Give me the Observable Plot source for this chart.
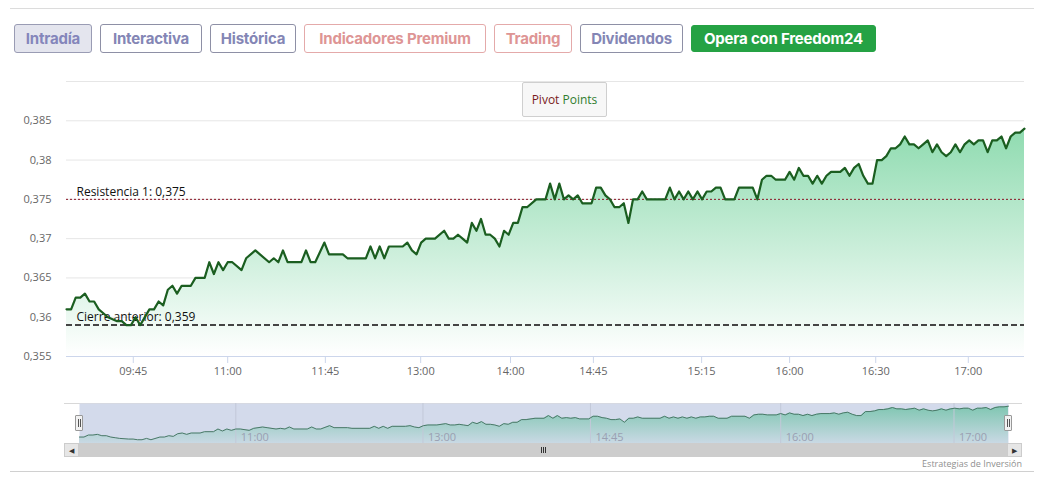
<!DOCTYPE html>
<html><head><meta charset="utf-8">
<script src="https://cdn.jsdelivr.net/npm/d3@7"></script>
<script src="https://cdn.jsdelivr.net/npm/@observablehq/plot@0.6"></script>
<style>
body{margin:0;background:#fff;}
#root{position:relative;width:1044px;height:488px;overflow:hidden;font-family:"Open Sans",sans-serif;}
#root svg{position:absolute;left:0;}
.hr{position:absolute;height:1px;}
.btn{position:absolute;top:24px;height:29px;box-sizing:border-box;border:1px solid;border-radius:3px;font:700 15px Inter,sans-serif;display:flex;align-items:center;justify-content:center;white-space:nowrap;letter-spacing:-0.2px;}
.box{position:absolute;box-sizing:border-box;}
</style>
</head><body>
<div id="root"></div>
<script>
// ---- data ----
const buttonLabels = ["Intradía", "Interactiva", "Histórica", "Indicadores Premium", "Trading", "Dividendos", "Opera con Freedom24"];
const pointNo = [0,1,2,3,4,5,6,7,8,9,11,12,13,14,15,16,18,19,20,21,22,23,24,25,27,28,30,31,32,33,34,35,36,38,39,41,42,44,45,46,47,48,51,52,53,54,56,57,60,61,65,66,67,68,69,70,73,74,75,76,77,78,80,82,83,84,85,86,87,88,89,90,91,92,93,94,95,96,97,98,99,100,102,104,105,106,107,108,109,110,111,112,114,115,116,117,118,119,120,121,122,123,124,125,126,130,131,132,133,134,135,136,137,138,139,140,141,142,143,145,146,149,150,151,152,153,154,156,157,158,159,160,161,162,163,164,165,166,168,169,170,171,172,173,174,175,176,177,178,179,180,181,182,183,184,185,186,187,188,189,190,191,192,193,194,195,196,197,198,199,200,201,202,203,204,205,206,207,208];
const price = [0.361,0.361,0.3625,0.3625,0.363,0.362,0.362,0.361,0.3605,0.360,0.3595,0.3595,0.359,0.359,0.360,0.359,0.361,0.361,0.362,0.3615,0.3635,0.364,0.363,0.364,0.364,0.365,0.365,0.367,0.3655,0.367,0.366,0.367,0.367,0.366,0.3675,0.3685,0.368,0.367,0.3675,0.367,0.3685,0.367,0.367,0.3685,0.367,0.367,0.3695,0.368,0.368,0.3675,0.3675,0.369,0.3675,0.369,0.3675,0.369,0.369,0.3695,0.3685,0.368,0.3695,0.370,0.370,0.371,0.370,0.370,0.3705,0.370,0.3695,0.372,0.371,0.3725,0.3705,0.3705,0.370,0.369,0.371,0.3705,0.372,0.372,0.374,0.374,0.375,0.375,0.377,0.375,0.377,0.375,0.3755,0.375,0.3755,0.3745,0.3745,0.3765,0.3765,0.3755,0.375,0.374,0.374,0.3745,0.372,0.375,0.375,0.376,0.375,0.375,0.3765,0.375,0.376,0.375,0.376,0.375,0.376,0.375,0.376,0.376,0.3765,0.3765,0.375,0.375,0.3765,0.3765,0.375,0.3775,0.378,0.378,0.3775,0.3775,0.3785,0.3775,0.379,0.378,0.378,0.377,0.378,0.377,0.378,0.3785,0.3785,0.379,0.378,0.379,0.3795,0.378,0.377,0.377,0.380,0.380,0.3805,0.3815,0.3815,0.382,0.383,0.382,0.382,0.3815,0.382,0.3825,0.381,0.382,0.381,0.3805,0.381,0.382,0.381,0.382,0.3825,0.382,0.3825,0.3825,0.381,0.3825,0.3825,0.383,0.3815,0.383,0.3835,0.3835,0.384];
const pointCount = 208;
const yTicks = [0.355, 0.36, 0.365, 0.37, 0.375, 0.38, 0.385];
const yTop = 0.39;
const xTickPos = [14.5, 35, 56.2, 76.9, 96.4, 114.4, 137.9, 157, 175.7, 195.8];
const xTickLabel = ["09:45", "11:00", "11:45", "13:00", "14:00", "14:45", "15:15", "16:00", "16:30", "17:00"];
const navTickLabel = ["11:00", "13:00", "14:45", "16:00", "17:00"];
const resistance = 0.375;
const resistanceLabel = "Resistencia 1: 0,375";
const prevClose = 0.359;
const prevCloseLabel = "Cierre anterior: 0,359";
const navDomain = [0.3562, 0.386];
const creditText = "Estrategias de Inversión";

// ---- build ----
const root = document.getElementById("root");
const data = pointNo.map((n, k) => ({n, p: price[k]}));
const fmt = d => String(d).replace(".", ",");
const tickMap = new Map(xTickPos.map((p, i) => [p, xTickLabel[i]]));
const navTickPos = navTickLabel.map(l => xTickPos[xTickLabel.indexOf(l)]);
const navMap = new Map(navTickPos.map((p, i) => [p, navTickLabel[i]]));

function gradientDefs(id, stops) {
  return () => {
    const ns = "http://www.w3.org/2000/svg";
    const defs = document.createElementNS(ns, "defs");
    const g = document.createElementNS(ns, "linearGradient");
    g.setAttribute("id", id);
    g.setAttribute("x1", "0"); g.setAttribute("y1", "0");
    g.setAttribute("x2", "0"); g.setAttribute("y2", "1");
    for (const [off, col, op] of stops) {
      const s = document.createElementNS(ns, "stop");
      s.setAttribute("offset", off);
      s.setAttribute("stop-color", col);
      s.setAttribute("stop-opacity", op);
      g.appendChild(s);
    }
    defs.appendChild(g);
    return defs;
  };
}

const main = Plot.plot({
  width: 1044, height: 392,
  marginLeft: 66, marginRight: 20, marginTop: 81, marginBottom: 36,
  style: {background: "transparent", fontFamily: "'Open Sans', sans-serif"},
  x: {domain: [0, pointCount], axis: null},
  y: {domain: [yTicks[0], yTop], axis: null},
  marks: [
    gradientDefs("mainGrad", [[0, "#8fdbb0", 1], [1, "#ffffff", 1]]),
    Plot.ruleY([...yTicks, yTop], {stroke: "#e6e6e6"}),
    Plot.axisY(yTicks, {anchor: "left", label: null, tickSize: 0, tickPadding: 15, tickFormat: fmt, fontSize: 11, fill: "#666"}),
    Plot.areaY(data, {x: "n", y1: () => yTicks[0], y2: "p", fill: "url(#mainGrad)", curve: "linear"}),
    Plot.ruleY([yTicks[0]], {stroke: "#ccd6eb"}),
    Plot.axisX(xTickPos, {anchor: "bottom", label: null, tickSize: 7, tickPadding: 4, stroke: "#ccd6eb", fill: "#666", fontSize: 11, tickFormat: d => tickMap.get(d)}),
    Plot.ruleY([resistance], {stroke: "#8a1424", strokeDasharray: "2,2", strokeWidth: 1}),
    Plot.ruleY([prevClose], {stroke: "#444", strokeDasharray: "6,3", strokeWidth: 2}),
    Plot.text([resistanceLabel], {y: () => resistance, frameAnchor: "left", dx: 10, dy: -7.5, textAnchor: "start", fontSize: 12, fill: "#111"}),
    Plot.text([prevCloseLabel], {y: () => prevClose, frameAnchor: "left", dx: 10, dy: -8, textAnchor: "start", fontSize: 12, fill: "#111"}),
    Plot.line(data, {x: "n", y: "p", stroke: "#1b5e20", strokeWidth: 2.2, strokeLinejoin: "round"})
  ]
});
main.style.top = "0px";
root.appendChild(main);

function div(cls, css, html) {
  const d = document.createElement("div");
  d.className = cls;
  Object.assign(d.style, css);
  if (html != null) d.innerHTML = html;
  root.appendChild(d);
  return d;
}
div("hr", {left: "10px", top: "8px", width: "1024px", background: "#dcdcdc"});
div("hr", {left: "10px", top: "471px", width: "1024px", background: "#d0d0d0"});

// buttons
const btnGeom = [[14, 78], [100, 102], [210, 86], [304, 182], [494, 78], [580, 103], [691, 185]];
const btnStyle = [
  {background: "#e4e5ee", borderColor: "#9a9cb4", color: "#8486bb"},
  {background: "#fff", borderColor: "#8e90a6", color: "#8486b5"},
  {background: "#fff", borderColor: "#8e90a6", color: "#8486b5"},
  {background: "#fff", borderColor: "#e4aaaa", color: "#de9595"},
  {background: "#fff", borderColor: "#e4aaaa", color: "#de9595"},
  {background: "#fff", borderColor: "#8e90a6", color: "#8486b5"},
  {background: "#25a244", borderColor: "#25a244", color: "#fff", top: "25px", height: "27px"}
];
buttonLabels.forEach((lab, i) => {
  const b = div("btn", Object.assign({left: btnGeom[i][0] + "px", width: btnGeom[i][1] + "px"}, btnStyle[i]));
  b.textContent = lab;
});

// Pivot Points button
div("box", {left: "522px", top: "82px", width: "85px", height: "35px", background: "#f7f7f7", border: "1px solid #cfcfcf", borderRadius: "2px",
  display: "flex", alignItems: "center", justifyContent: "center", font: "12px 'Open Sans',sans-serif"},
  '<span style="color:#7a1c1c">Pivot</span>&nbsp;<span style="color:#2f7d2f">Points</span>');

// navigator
div("hr", {left: "64px", top: "403px", width: "958px", background: "#d8d8d8"});
const nav = Plot.plot({
  width: 1044, height: 40,
  marginLeft: 79, marginRight: 36, marginTop: 0, marginBottom: 0,
  style: {background: "transparent", fontFamily: "'Open Sans', sans-serif"},
  x: {domain: [0, pointCount], axis: null},
  y: {domain: navDomain, axis: null},
  marks: [
    gradientDefs("navGrad", [[0, "#7fc6b1", 1], [1, "#c9d9e4", 1]]),
    Plot.frame({fill: "#d3daeb", stroke: null}),
    Plot.areaY(data, {x: "n", y1: () => navDomain[0], y2: "p", fill: "url(#navGrad)"}),
    Plot.ruleX(navTickPos, {stroke: "#c2c8d8", strokeWidth: 1}),
    Plot.line(data, {x: "n", y: "p", stroke: "#4a7868", strokeWidth: 1}),
    Plot.text(navTickPos, {x: d => d, text: d => navMap.get(d), frameAnchor: "bottom", lineAnchor: "bottom", dx: 5, dy: -3, textAnchor: "start", fontSize: 11, fill: "#9aa0b2"})
  ]
});
nav.style.top = "403px";
root.appendChild(nav);

// scrollbar
div("box", {left: "64px", top: "443px", width: "958px", height: "14px", background: "#cdcdcd"});
div("box", {left: "64px", top: "443px", width: "15px", height: "14px", background: "#e6e6e6", border: "1px solid #cccccc",
  display: "flex", alignItems: "center", justifyContent: "center", fontSize: "7px", color: "#333"}, "&#9664;");
div("box", {left: "1007px", top: "443px", width: "15px", height: "14px", background: "#e6e6e6", border: "1px solid #cccccc",
  display: "flex", alignItems: "center", justifyContent: "center", fontSize: "7px", color: "#333"}, "&#9654;");
for (let k = 0; k < 3; k++) {
  div("box", {left: (541 + k * 2) + "px", top: "447px", width: "1px", height: "6px", background: "#333"});
}
// handles
for (const hx of [75, 1004]) {
  div("box", {left: hx + "px", top: "415px", width: "8px", height: "16px", background: "#f2f2f2", border: "1px solid #999", borderRadius: "1px"});
  div("box", {left: (hx + 3) + "px", top: "419px", width: "1px", height: "8px", background: "#555"});
  div("box", {left: (hx + 5) + "px", top: "419px", width: "1px", height: "8px", background: "#555"});
}
// credit
div("box", {right: "22px", top: "457px", font: "9px 'Open Sans',sans-serif", color: "#909090", whiteSpace: "nowrap"}, creditText);
</script>
</body></html>
